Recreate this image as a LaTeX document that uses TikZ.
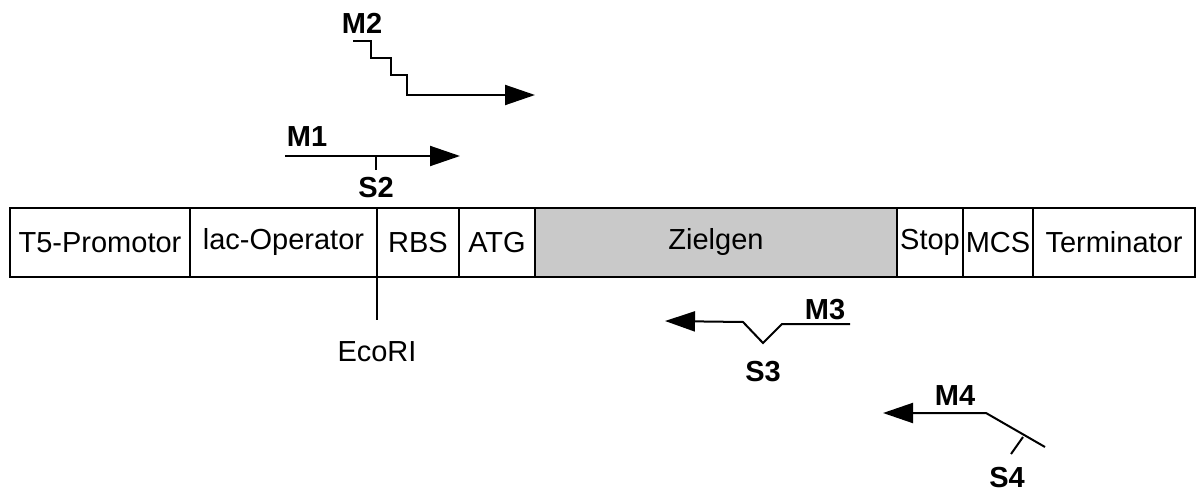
\documentclass[tikz,border=0pt]{standalone}
\usepackage{fontspec}
\setmainfont{Liberation Sans}
\usepackage{tikz}
\usetikzlibrary{
        arrows.meta,
        positioning
    }
\tikzset{>={Triangle[length=30pt,width=20pt]}}
\tikzset{seg/.style={draw,line width=2pt,outer sep=0pt,inner sep=0pt,minimum height=69pt,font=\fontsize{29}{34}\selectfont}}
\tikzset{primer/.style={line width=2pt}}
\tikzset{plabel/.style={font=\fontsize{29}{34}\selectfont\bfseries,inner sep=0pt}}

\begin{document}
\begin{tikzpicture}[x=1pt,y=-1pt]
                    \useasboundingbox (0,0) rectangle (1198,492);
                    \node[seg,minimum width=180pt,anchor=north west] (t5) at (10,208) {T5-Promotor};
                    \node[seg,minimum width=187pt] (lac)  [right=0pt of t5]   {lac-Operator};
                    \node[seg,minimum width=82pt]  (rbs)  [right=0pt of lac]  {RBS};
                    \node[seg,minimum width=76pt]  (atg)  [right=0pt of rbs]  {ATG};
                    \node[seg,minimum width=362pt,fill=black!21] (ziel) [right=0pt of atg] {Zielgen};
                    \node[seg,minimum width=66pt]  (stop) [right=0pt of ziel] {Stop};
                    \node[seg,minimum width=70pt]  (mcs)  [right=0pt of stop] {MCS};
                    \node[seg,minimum width=162pt] (term) [right=0pt of mcs]  {Terminator};

                    \coordinate (eco) at (377,320);
                    \draw[primer] (rbs.south west) -- (eco);
                    \node[font=\fontsize{29}{34}\selectfont,inner sep=0pt] (ecori) at (377,352) {EcoRI};

                    \coordinate (m1s) at (285,156);
                    \coordinate (m1e) at (460,156);
                    \coordinate (s2a) at (376,156);
                    \coordinate (s2b) at (376,170);
                    \draw[primer,->] (m1s) -- (m1e);
                    \draw[primer] (s2a) -- (s2b);
                    \node[plabel] (m1) at (307,137) {M1};
                    \node[plabel] (s2) at (376,188) {S2};

                    \coordinate (m2s) at (353,41);
                    \coordinate (m2e) at (535,95);
                    \draw[primer,->] (m2s) -| (371,58) -| (391,75) -| (407,95) -- (m2e);
                    \node[plabel] (m2) at (362,23) {M2};

                    \coordinate (m3s) at (850,324);
                    \coordinate (m3e) at (665,321);
                    \draw[primer,->] (m3s) -- (782,324) -- (763,343) -- (743,322) -- (m3e);
                    \node[plabel] (m3) at (825,310) {M3};
                    \node[plabel] (s3) at (763,372) {S3};

                    \coordinate (m4s) at (1045,447);
                    \coordinate (m4e) at (883,413);
                    \coordinate (s4a) at (1023,437);
                    \coordinate (s4b) at (1011,454);
                    \draw[primer,->] (m4s) -- (986,413) -- (m4e);
                    \draw[primer] (s4a) -- (s4b);
                    \node[plabel] (m4) at (955,396) {M4};
                    \node[plabel] (s4) at (1007,478) {S4};
                \end{tikzpicture}
\end{document}
